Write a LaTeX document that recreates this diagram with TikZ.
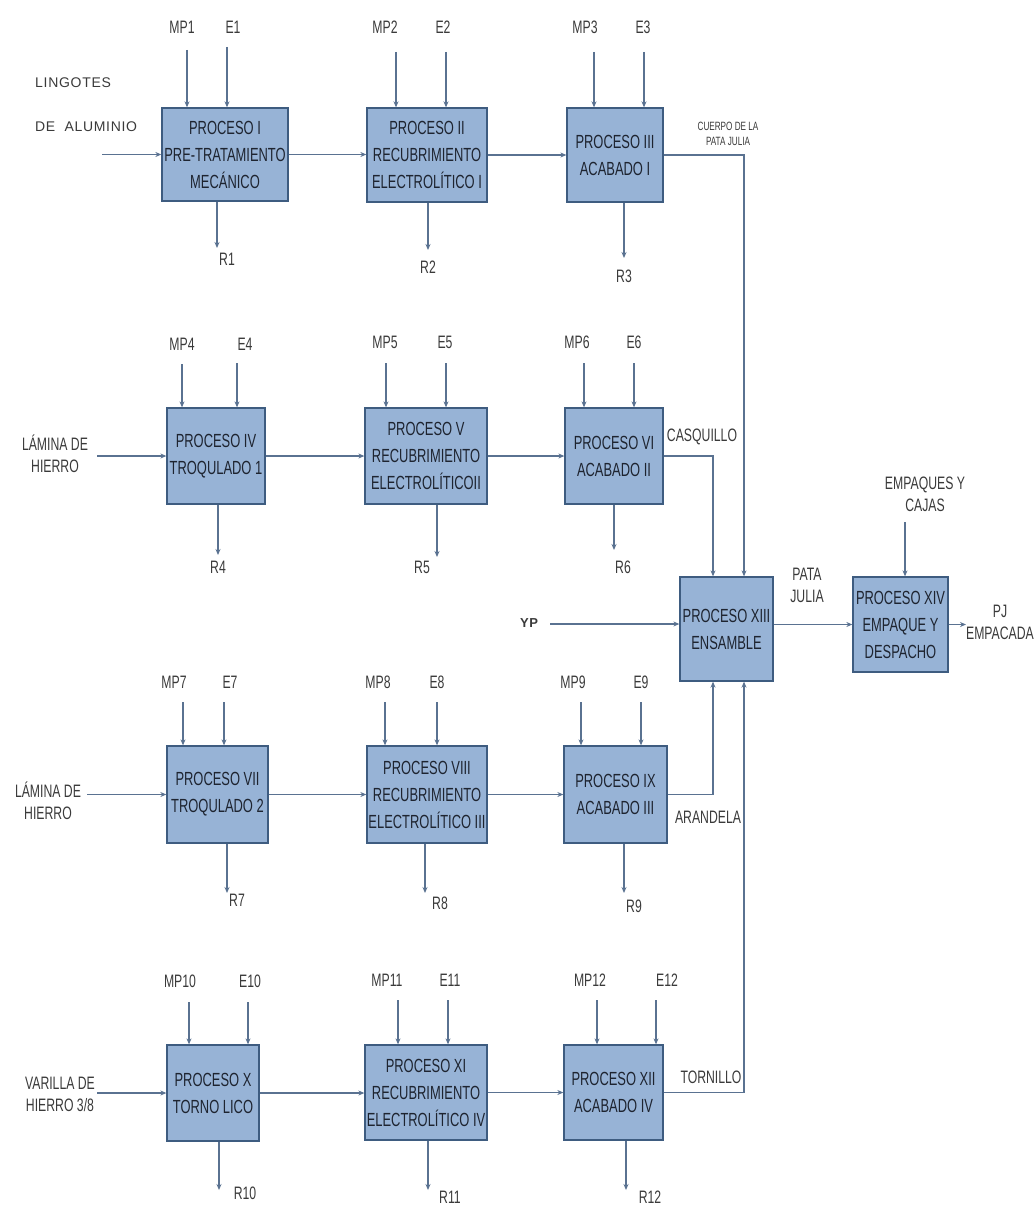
\documentclass[tikz,border=0pt]{standalone}
\usepackage{fontspec}
\setmainfont{Liberation Sans}[FakeStretch=0.68]
\newfontfamily\lingfont{Liberation Sans}[LetterSpace=5]
\usetikzlibrary{arrows.meta}
\definecolor{boxfill}{HTML}{97B3D6}
\definecolor{boxline}{HTML}{3E5C80}
\definecolor{linec}{HTML}{5A7291}
\definecolor{labc}{HTML}{3A3A3A}
\definecolor{boxtxt}{HTML}{1E2430}
\newcommand\pbox[6]{\node[proc, minimum width=#4pt, minimum height=#5pt] (#1) at (#2,#3) {#6};}
\newcommand\pfeed[7]{%
  \node[lab] (#2) at (#5,#6) {#7};
  \coordinate (#2s) at (#3,#4);
  \draw[arr] (#2s) -- (#2s |- #1.north);}
\newcommand\pwaste[7]{%
  \coordinate (#2e) at (#3,#4);
  \draw[arr] (#2e |- #1.south) -- (#2e);
  \node[lab] (#2) at (#5,#6) {#7};}
\begin{document}
\begin{tikzpicture}[x=1pt,y=-1pt,
 proc/.style={draw=boxline, fill=boxfill, line width=1.3pt, inner sep=0pt, align=center, text=boxtxt, font=\fontsize{19}{27}\selectfont},
 lab/.style={inner sep=0pt, text=labc, font=\fontsize{18}{22}\selectfont, align=center},
 small/.style={inner sep=0pt, text=labc, font=\fontsize{12}{15}\selectfont, align=center},
 ling/.style={inner sep=0pt, text=labc, font=\lingfont\fontsize{14}{16}\selectfont},
 arr/.style={draw=linec, line width=1.1pt, -{Stealth[length=6pt,width=5pt]}},
 ln/.style={draw=linec, line width=1.1pt},
]
\useasboundingbox (0,0) rectangle (1035,1209);

% ---------- boxes ----------
\pbox{p1}{225}{154.5}{126}{93}{PROCESO I\\PRE-TRATAMIENTO\\MECÁNICO}
\pbox{p2}{427}{155}{120}{94}{PROCESO II\\RECUBRIMIENTO\\ELECTROLÍTICO I}
\pbox{p3}{615}{155}{96}{94}{PROCESO III\\ACABADO I}
\pbox{p4}{216}{456}{98}{96}{PROCESO IV\\TROQULADO 1}
\pbox{p5}{426}{456}{122}{96}{PROCESO V\\RECUBRIMIENTO\\ELECTROLÍTICOII}
\pbox{p6}{614}{456}{98}{96}{PROCESO VI\\ACABADO II}
\pbox{p7}{217.5}{794.5}{101}{97}{PROCESO VII\\TROQULADO 2}
\pbox{p8}{427}{794.5}{120}{97}{PROCESO VIII\\RECUBRIMIENTO\\ELECTROLÍTICO III}
\pbox{p9}{615.5}{794.5}{103}{97}{PROCESO IX\\ACABADO III}
\pbox{p10}{213}{1093}{92}{96}{PROCESO X\\TORNO LICO}
\pbox{p11}{426}{1092.5}{122}{95}{PROCESO XI\\RECUBRIMIENTO\\ELECTROLÍTICO IV}
\pbox{p12}{613.5}{1092.5}{99}{95}{PROCESO XII\\ACABADO IV}
\pbox{p13}{726.5}{629}{93}{104}{PROCESO XIII\\ENSAMBLE}
\pbox{p14}{900.5}{624.5}{95}{95}{PROCESO XIV\\EMPAQUE Y\\DESPACHO}

% ---------- top inputs ----------
\pfeed{p1}{mp1}{187}{50}{182}{27}{MP1}
\pfeed{p1}{e1}{227}{47}{233}{27}{E1}
\pfeed{p2}{mp2}{396}{52}{385}{27}{MP2}
\pfeed{p2}{e2}{446}{52}{443}{27}{E2}
\pfeed{p3}{mp3}{594}{52}{585}{27}{MP3}
\pfeed{p3}{e3}{644}{52}{643}{27}{E3}

\pfeed{p4}{mp4}{182}{364}{182}{344}{MP4}
\pfeed{p4}{e4}{237}{363}{245}{344}{E4}
\pfeed{p5}{mp5}{386}{363}{385}{342}{MP5}
\pfeed{p5}{e5}{446}{363}{445}{342}{E5}
\pfeed{p6}{mp6}{584}{363}{577}{342}{MP6}
\pfeed{p6}{e6}{634}{363}{634}{342}{E6}

\pfeed{p7}{mp7}{183}{702}{174}{682}{MP7}
\pfeed{p7}{e7}{224}{702}{230}{682}{E7}
\pfeed{p8}{mp8}{385}{702}{378}{682}{MP8}
\pfeed{p8}{e8}{437}{702}{437}{682}{E8}
\pfeed{p9}{mp9}{581}{702}{573}{682}{MP9}
\pfeed{p9}{e9}{641}{702}{641}{682}{E9}

\pfeed{p10}{mp10}{189}{1002}{180}{981}{MP10}
\pfeed{p10}{e10}{248}{1002}{250}{981}{E10}
\pfeed{p11}{mp11}{398}{1000}{387}{980}{MP11}
\pfeed{p11}{e11}{448}{1000}{450}{980}{E11}
\pfeed{p12}{mp12}{597}{1000}{590}{980}{MP12}
\pfeed{p12}{e12}{656}{1000}{667}{980}{E12}

% ---------- wastes ----------
\pwaste{p1}{r1}{217}{248}{227}{259}{R1}
\pwaste{p2}{r2}{428}{250}{428}{267}{R2}
\pwaste{p3}{r3}{624}{258}{624}{276}{R3}
\pwaste{p4}{r4}{218}{555}{218}{567}{R4}
\pwaste{p5}{r5}{437}{557}{422}{567}{R5}
\pwaste{p6}{r6}{614}{550}{623}{567}{R6}
\pwaste{p7}{r7}{227}{893}{237}{900}{R7}
\pwaste{p8}{r8}{425}{893}{440}{903}{R8}
\pwaste{p9}{r9}{624}{893}{634}{906}{R9}
\pwaste{p10}{r10}{219}{1190}{245}{1193}{R10}
\pwaste{p11}{r11}{428}{1190}{450}{1197}{R11}
\pwaste{p12}{r12}{626}{1190}{650}{1197}{R12}

% ---------- left inputs ----------
\node[ling, anchor=west] (ling1) at (35,83) {LINGOTES};
\node[ling, anchor=west] (ling2) at (35,127) {DE\ \ ALUMINIO};
\coordinate (in1) at (102,154.5);
\draw[arr] (in1) -- (in1 -| p1.west);

\node[lab] (lam1) at (55,454) {LÁMINA DE\\HIERRO};
\coordinate (in4) at (97,456);
\draw[arr] (in4) -- (in4 -| p4.west);

\node[lab] (lam2) at (48,801) {LÁMINA DE\\HIERRO};
\coordinate (in7) at (87,794.5);
\draw[arr] (in7) -- (in7 -| p7.west);

\node[lab] (var) at (60,1094) {VARILLA DE\\HIERRO 3/8};
\coordinate (in10) at (97,1093);
\draw[arr] (in10) -- (in10 -| p10.west);

% ---------- chains ----------
\foreach \a/\b in {p1/p2,p2/p3,p4/p5,p5/p6,p7/p8,p8/p9,p10/p11,p11/p12}
  \draw[arr] (\a.east) -- (\a.east -| \b.west);

% ---------- to assembly ----------
\coordinate (ja) at (744,0);
\coordinate (jb) at (713,0);
\draw[arr] (p3.east) -| (ja |- p13.north);
\draw[arr] (p6.east) -| (jb |- p13.north);
\draw[arr] (p9.east) -| (jb |- p13.south);
\draw[arr] (p12.east) -| (ja |- p13.south);

\node[small] (cuerpo) at (728,134) {CUERPO DE LA\\PATA JULIA};
\node[lab] (casq) at (702,437) {CASQUILLO};
\node[lab] (arand) at (708,817) {ARANDELA};
\node[lab] (torn) at (711,1077) {TORNILLO};

\node[ling, font=\lingfont\fontsize{13}{15}\selectfont\bfseries] (yp) at (529,623) {YP};
\coordinate (ypS) at (550,624);
\draw[arr] (ypS) -- (ypS -| p13.west);

% ---------- packing ----------
\draw[arr] (p14.west -| p13.east) -- (p14.west);
\node[lab] (pata) at (807,585) {PATA\\JULIA};
\node[lab] (emp) at (925,494) {EMPAQUES Y\\CAJAS};
\coordinate (empS) at (905,522);
\draw[arr] (empS) -- (empS |- p14.north);
\coordinate (pjE) at (966,624.5);
\draw[arr] (p14.east) -- (pjE);
\node[lab] (pj) at (1000,622) {PJ\\EMPACADA};
\end{tikzpicture}
\end{document}
